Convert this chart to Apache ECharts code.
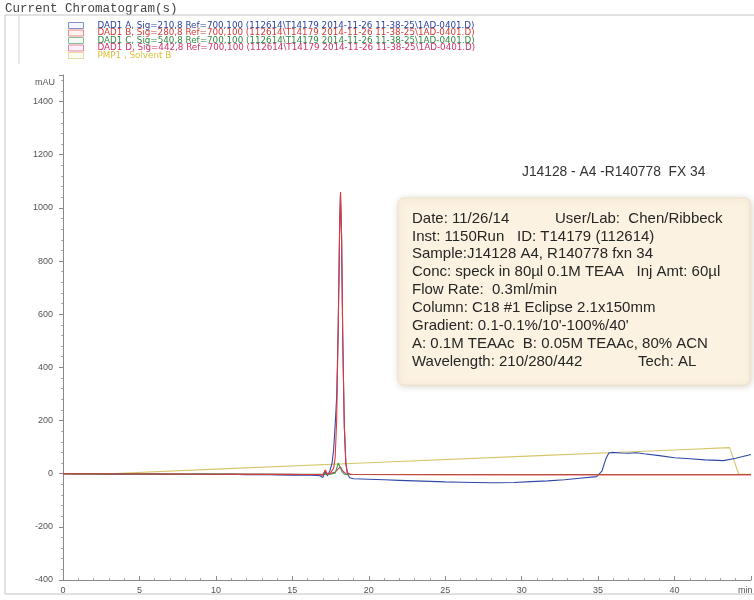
<!DOCTYPE html>
<html>
<head>
<meta charset="utf-8">
<script src="https://cdn.jsdelivr.net/npm/echarts@6/dist/echarts.min.js"></script>
<style>
  html, body { margin: 0; padding: 0; background: #fff; }
  #chart { width: 754px; height: 600px; }
</style>
</head>
<body>
<div id="chart"></div>
<script>
// Trace names (as printed by the instrument)
const traceNames = [
  'DAD1 A, Sig=210,8 Ref=700,100 (112614\\T14179 2014-11-26 11-38-25\\1AD-0401.D)',
  'DAD1 B, Sig=280,8 Ref=700,100 (112614\\T14179 2014-11-26 11-38-25\\1AD-0401.D)',
  'DAD1 C, Sig=540,8 Ref=700,100 (112614\\T14179 2014-11-26 11-38-25\\1AD-0401.D)',
  'DAD1 D, Sig=442,8 Ref=700,100 (112614\\T14179 2014-11-26 11-38-25\\1AD-0401.D)',
  'PMP1 , Solvent B'
];

// Time (min) / absorbance (mAU) pairs for each detector trace
const dadA = [
  [0,0],[1,-1],[2,-1],[3,-2],[4,-1],[5,-2],[6,-1],[7,-2],[8,-3],[9,-2],[10,-3],[11,-2],[12,-4],[13,-3],
  [14,-5],[15,-6],[16,-5],[16.8,-8],[17.0,-14],[17.15,6],[17.3,-8],[17.45,10],[17.6,40],[17.7,90],
  [17.8,180],[17.9,290],[18.0,545],[18.1,945],[18.15,1050],[18.22,895],[18.3,497],[18.4,178],[18.5,39],
  [18.6,0],[18.75,-15],[19,-19],[20,-21],[21,-23],[22,-25],[23,-27],[24,-29],[25,-31],[26,-32],[27,-33],
  [28,-34],[28.5,-34],[29.5,-33],[30.6,-30],[31.7,-27],[32.8,-23],[33.8,-17],[34.9,-11],[35.25,10],
  [35.5,55],[35.7,78],[35.9,80],[36.5,78],[37,77],[37.5,79],[38,75],[39,68],[40,60],[41,56],[42,52],
  [43.2,49],[44,58],[45,72]
];
const dadB = [
  [0,0],[5,-1],[10,-2],[15,-3],[16.8,-3],[17.0,-6],[17.15,14],[17.3,-3],[17.5,4],[17.7,20],[17.8,60],
  [17.9,200],[18.0,550],[18.1,950],[18.15,1060],[18.22,900],[18.3,500],[18.4,180],[18.5,40],[18.6,5],
  [18.8,-3],[25,-4],[30,-4],[35,-4],[40,-4],[45,-4]
];
const dadC = [
  [0,0],[5,-1],[10,-1],[15,-2],[17.5,-2],[17.8,2],[17.9,20],[18.0,40],[18.1,35],[18.25,8],[18.4,-2],
  [25,-3],[35,-3],[45,-3]
];
const dadD = [
  [0,0],[5,-1],[10,-1],[15,-2],[17.0,-5],[17.15,12],[17.3,-2],[17.8,6],[18.0,18],[18.15,25],
  [18.3,10],[18.5,0],[19,-3],[30,-4],[45,-4]
];
// Pump solvent B trace
const pumpB = [
  [0,0],[3,0],[10,17],[20,41],[30,65],[40,89],[43.6,98],[44.2,-2],[45,-2]
];

// Axis ticks
const xTicks = [0, 5, 10, 15, 20, 25, 30, 35, 40];
const yTicks = [-400, -200, 0, 200, 400, 600, 800, 1000, 1200, 1400];

const traceColors = ['#3148a8', '#e0383a', '#3a9a48', '#d8346e', '#d6c66a'];
const legendTextColors = ['#2b3fa0', '#d43a3a', '#2e8a3e', '#d2306a', '#d8c23a'];
const swatchFills = ['rgba(150,170,220,0.18)', 'rgba(235,150,150,0.18)', 'rgba(150,200,160,0.18)',
                     'rgba(235,150,190,0.2)', 'rgba(230,220,150,0.2)'];
const seriesData = [dadA, dadB, dadC, dadD, pumpB];

// Notes shown on the sample label
const labelLines = [
  ['Date: 11/26/14', 'User/Lab:  Chen/Ribbeck'],
  ['Inst: 1150Run', 'ID: T14179 (112614)'],
  ['Sample:J14128 A4, R140778 fxn 34', ''],
  ['Conc: speck in 80\u00b5l 0.1M TEAA   Inj Amt: 60\u00b5l', ''],
  ['Flow Rate:  0.3ml/min', ''],
  ['Column: C18 #1 Eclipse 2.1x150mm', ''],
  ['Gradient: 0.1-0.1%/10\'-100%/40\'', ''],
  ['A: 0.1M TEAAc  B: 0.05M TEAAc, 80% ACN', ''],
  ['Wavelength: 210/280/442', 'Tech: AL']
];
const secondColX = [555, 517, 0, 0, 0, 0, 0, 0, 638];

const chart = echarts.init(document.getElementById('chart'), null, { renderer: 'canvas' });

const labelFont = '"Liberation Sans", Arial, sans-serif';
const noteGraphics = [];
labelLines.forEach((pair, i) => {
  const y = 220 + i * 17.9;
  noteGraphics.push({
    type: 'text', left: 412, top: y - 9,
    style: { text: pair[0], font: '15px ' + labelFont, fill: '#262626' }, z: 12
  });
  if (pair[1]) {
    noteGraphics.push({
      type: 'text', left: secondColX[i], top: y - 9,
      style: { text: pair[1], font: '15px ' + labelFont, fill: '#262626' }, z: 12
    });
  }
});

const option = {
  backgroundColor: '#ffffff',
  animation: false,
  grid: { left: 63, right: 0, top: 75, bottom: 20, containLabel: false },
  legend: {
    left: 68, top: 21, orient: 'vertical', itemGap: -1.5, padding: 0,
    itemWidth: 15, itemHeight: 6, icon: 'rect',
    selectedMode: false,
    textStyle: { fontSize: 8.75, lineHeight: 7.5, fontFamily: '"DejaVu Sans", Verdana, sans-serif',
                 padding: [0, 0, 0, 9] },
    data: traceNames.map((n, i) => ({
      name: n,
      itemStyle: { color: swatchFills[i], borderColor: traceColors[i], borderWidth: 1, opacity: 0.6 },
      textStyle: { color: legendTextColors[i] }
    }))
  },
  xAxis: {
    type: 'value', min: 0, max: 45, interval: 5,
    axisLine: { onZero: false, lineStyle: { color: '#8a8a8a', width: 1 } },
    axisTick: { inside: true, length: 4, lineStyle: { color: '#8a8a8a' } },
    minorTick: { show: true, splitNumber: 5, length: 2, lineStyle: { color: '#aaa' } },
    axisLabel: {
      color: '#555', fontSize: 9, fontFamily: labelFont, margin: 6,
      formatter: v => (xTicks.indexOf(v) >= 0 ? String(v) : '')
    },
    splitLine: { show: false }
  },
  yAxis: {
    type: 'value', min: -400, max: 1500, interval: 200,
    axisLine: { show: true, onZero: false, lineStyle: { color: '#8a8a8a', width: 1 } },
    axisTick: { show: true, length: 4, lineStyle: { color: '#8a8a8a' } },
    minorTick: { show: true, splitNumber: 5, length: 2, lineStyle: { color: '#aaa' } },
    axisLabel: {
      color: '#555', fontSize: 9, fontFamily: labelFont, margin: 10,
      formatter: v => (yTicks.indexOf(v) >= 0 ? String(v) : '')
    },
    splitLine: { show: false }
  },
  series: seriesData.map((d, i) => ({
    name: traceNames[i],
    type: 'line',
    data: d,
    showSymbol: false,
    symbol: 'none',
    lineStyle: { color: traceColors[i], width: 1.1 },
    itemStyle: { color: traceColors[i] },
    z: [4, 6, 5, 3, 2][i]
  })),
  graphic: [
    // outer frame of the printout
    { type: 'rect', shape: { x: 5, y: 15, width: 760, height: 579 },
      style: { fill: null, stroke: '#c4c4c4', lineWidth: 1 }, z: 1, silent: true },
    { type: 'line', shape: { x1: 19, y1: 15, x2: 19, y2: 64 },
      style: { stroke: '#d4d4d4', lineWidth: 1 }, z: 1 },
    { type: 'text', left: 5, top: 2,
      style: { text: 'Current Chromatogram(s)', font: '12.5px "Liberation Mono", "Courier New", monospace', fill: '#444' } },
    // unit label just left of the value axis, under its top end
    { type: 'text', left: 35, top: 78,
      style: { text: 'mAU', font: '9px ' + labelFont, fill: '#555' } },
    { type: 'text', left: 738, top: 586,
      style: { text: 'min', font: '9px ' + labelFont, fill: '#555' } },
    { type: 'text', left: 522, top: 165,
      style: { text: 'J14128 - A4 -R140778  FX 34', font: '13.8px ' + labelFont, fill: '#333' } },
    // sample label sticker
    { type: 'rect', shape: { x: 398, y: 198, width: 352, height: 187, r: 6 },
      style: { fill: '#fcf2e1', stroke: '#eee2cc', lineWidth: 1,
               shadowBlur: 6, shadowColor: 'rgba(120,100,60,0.25)', shadowOffsetX: 1, shadowOffsetY: 1 },
      z: 11 }
  ].concat(noteGraphics)
};

chart.setOption(option);
</script>
</body>
</html>
